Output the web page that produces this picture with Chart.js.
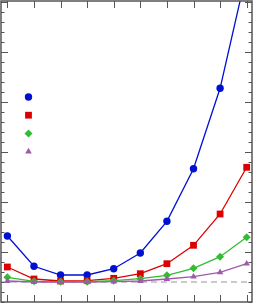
<!DOCTYPE html>
<html>
<head>
<meta charset="utf-8">
<script src="https://cdn.jsdelivr.net/npm/chart.js@4/dist/chart.umd.min.js"></script>
<style>
  html, body { margin: 0; padding: 0; background: #fff; overflow: hidden; }
  #wrap { width: 253px; height: 303px; }
  canvas { display: block; }
</style>
</head>
<body>
<div id="wrap"><canvas id="chart" width="253" height="303"></canvas></div>
<script>
// Data
const categories = [0, 1, 2, 3, 4, 5, 6, 7, 8, 9];
const blueValues = [4.6, 1.57, 0.7, 0.7, 1.33, 2.9, 6.07, 11.33, 19.37, 31.0];
const redValues = [1.5, 0.3, 0.1, 0.13, 0.37, 0.83, 1.83, 3.67, 6.8, 11.47];
const greenValues = [0.47, 0.07, 0.03, 0.03, 0.13, 0.33, 0.67, 1.37, 2.53, 4.47];
const purpleValues = [0.1, 0.0, 0.0, 0.0, 0.03, 0.1, 0.3, 0.53, 0.97, 1.83];
const yMinorTicks = [-2, -1, 0, 1, 2, 3, 4, 5, 6, 7, 8, 9, 10, 11, 12, 13, 14, 15, 16, 17, 18, 19, 20, 21, 22, 23, 24, 25, 26, 27, 28];
const yMajorTicks = [3, 8, 13, 18, 23, 28];

function toPoints(values) {
    return categories.map((c, i) => ({ x: c, y: values[i] }));
}

function makeSet(values, color, style, radius) {
    return {
        data: toPoints(values),
        borderColor: color,
        backgroundColor: color,
        borderWidth: 1.3,
        pointStyle: style,
        pointRadius: radius,
        pointBorderWidth: 0,
        pointBackgroundColor: color,
        tension: 0
    };
}

const datasets = [
    makeSet(purpleValues, '#a05aaa', 'triangle', 3.8),
    makeSet(greenValues, '#33bb33', 'rectRot', 4),
    makeSet(redValues, '#dd0000', 'rect', 4.8),
    makeSet(blueValues, '#0010d0', 'circle', 3.7)
];

// Dashed zero line under the data
const zeroLine = {
    id: 'zeroLine',
    beforeDatasetsDraw(chart) {
        const ctx = chart.ctx;
        const area = chart.chartArea;
        const y = chart.scales.y.getPixelForValue(0);
        ctx.save();
        ctx.strokeStyle = '#bbbbbb';
        ctx.lineWidth = 1.5;
        ctx.setLineDash([6, 4]);
        ctx.beginPath();
        ctx.moveTo(area.left, y);
        ctx.lineTo(area.right, y);
        ctx.stroke();
        ctx.restore();
    }
};

// Frame with inward ticks and marker-only legend
const frameAndLegend = {
    id: 'frameAndLegend',
    afterDraw(chart) {
        const ctx = chart.ctx;
        const area = chart.chartArea;
        const xs = chart.scales.x;
        const ys = chart.scales.y;
        ctx.save();
        ctx.strokeStyle = '#555';
        ctx.lineWidth = 1;
        ctx.beginPath();
        categories.forEach(c => {
            const px = Math.round(xs.getPixelForValue(c)) + 0.5;
            ctx.moveTo(px, area.top); ctx.lineTo(px, area.top + 7);
            ctx.moveTo(px, area.bottom); ctx.lineTo(px, area.bottom - 7);
        });
        yMinorTicks.forEach(v => {
            const len = yMajorTicks.includes(v) ? 7 : 3.5;
            const py = Math.round(ys.getPixelForValue(v)) + 0.5;
            ctx.moveTo(area.left, py); ctx.lineTo(area.left + len, py);
            ctx.moveTo(area.right, py); ctx.lineTo(area.right - len, py);
        });
        ctx.stroke();
        ctx.lineWidth = 1.5;
        ctx.strokeRect(area.left, area.top, area.right - area.left, area.bottom - area.top);

        // legend markers, top to bottom: blue, red, green, purple
        const order = [3, 2, 1, 0];
        order.forEach((di, k) => {
            const ds = chart.data.datasets[di];
            ctx.fillStyle = ds.pointBackgroundColor;
            ctx.strokeStyle = ds.pointBackgroundColor;
            ctx.lineWidth = 0;
            Chart.helpers.drawPoint(ctx, { pointStyle: ds.pointStyle, radius: ds.pointRadius, rotation: 0, borderWidth: 0 }, 28.5, 97 + k * 18.2);
        });
        ctx.restore();
    }
};

new Chart(document.getElementById('chart'), {
    type: 'line',
    data: { datasets: datasets },
    options: {
        responsive: false,
        animation: false,
        layout: { autoPadding: false, padding: { left: 1, right: 1, top: 1, bottom: 1 } },
        scales: {
            x: { type: 'linear', min: -0.24, max: 9.2, display: false },
            y: { type: 'linear', min: -2, max: 28.1, display: false }
        },
        plugins: {
            legend: { display: false },
            tooltip: { enabled: false }
        }
    },
    plugins: [zeroLine, frameAndLegend]
});
</script>
</body>
</html>
